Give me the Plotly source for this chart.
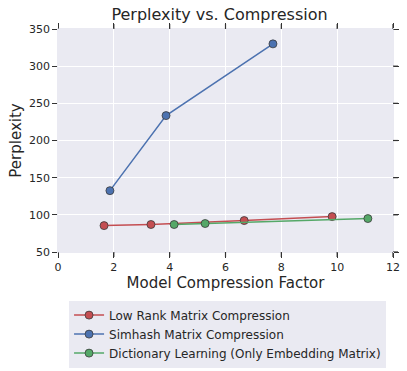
import plotly.graph_objects as go

lowrank_x = [1.65, 3.33, 6.67, 9.82]
lowrank_y = [85.5, 87.0, 92.3, 97.6]
simhash_x = [1.86, 3.87, 7.70]
simhash_y = [132.5, 233.5, 330.0]
dict_x = [4.16, 5.27, 11.10]
dict_y = [87.0, 88.3, 95.0]

x_ticks = [0, 2, 4, 6, 8, 10, 12]
y_ticks = [50, 100, 150, 200, 250, 300, 350]

series = [
    ("Low Rank Matrix Compression", lowrank_x, lowrank_y, "#C44E52"),
    ("Simhash Matrix Compression", simhash_x, simhash_y, "#4C72B0"),
    ("Dictionary Learning (Only Embedding Matrix)", dict_x, dict_y, "#55A868"),
]

X_RANGE = [x_ticks[0], x_ticks[-1]]
Y_RANGE = [y_ticks[0], y_ticks[-1]]
PLOT_W, PLOT_H, TICK = 335, 223, 5
TICK_COLOR = "#333333"

FONT = "DejaVu Sans"
fig = go.Figure()
for name, xs, ys, c in series:
    fig.add_trace(go.Scatter(
        x=xs, y=ys, name=name, mode="lines+markers",
        line=dict(color=c, width=1.5),
        marker=dict(color=c, size=8, line=dict(color="#3a3a3a", width=0.8)),
    ))

axis_style = dict(
    showgrid=True, gridcolor="white", gridwidth=1.2, zeroline=False,
    ticks="outside", ticklen=TICK, tickwidth=1.2, tickcolor=TICK_COLOR,
    mirror="allticks", showline=True, linecolor="#EAEAF2", linewidth=0.5,
    tickfont=dict(family=FONT, size=11, color="#262626"),
)
fig.update_layout(
    xaxis=dict(range=X_RANGE, tickvals=x_ticks, **axis_style,
               title=dict(text="Model Compression Factor",
                          font=dict(family=FONT, size=15, color="#262626"), standoff=4)),
    yaxis=dict(range=Y_RANGE, tickvals=y_ticks, **axis_style,
               title=dict(text="Perplexity",
                          font=dict(family=FONT, size=15, color="#262626"), standoff=3)),
)

# tick marks on all four sides (matplotlib-style frame ticks)
tick_line = dict(color=TICK_COLOR, width=1.2)
for xv in x_ticks:
    fig.add_shape(type="line", xref="x", yref="paper", x0=xv, x1=xv,
                  y0=1, y1=1 + TICK / PLOT_H, line=tick_line)
    fig.add_shape(type="line", xref="x", yref="paper", x0=xv, x1=xv,
                  y0=0, y1=-TICK / PLOT_H, line=tick_line)
for yv in y_ticks:
    fig.add_shape(type="line", xref="paper", yref="y", x0=1, x1=1 + TICK / PLOT_W,
                  y0=yv, y1=yv, line=tick_line)

fig.update_layout(
    width=407, height=371,
    margin=dict(l=58, r=14, t=29, b=119, autoexpand=False),
    paper_bgcolor="white", plot_bgcolor="#EAEAF2",
    title=dict(text="Perplexity vs. Compression", x=219.5 / 407, xanchor="center",
               y=1 - 14 / 371, yanchor="middle",
               font=dict(family=FONT, size=16, color="#262626")),
    legend=dict(x=0.033, xanchor="left", y=-0.218, yanchor="top",
                bgcolor="#EAEAF2", borderwidth=0,
                font=dict(family=FONT, size=12, color="#262626"),
                itemwidth=30, tracegroupgap=0),
    showlegend=True,
)

fig.write_html("out.html", config={"displayModeBar": False},
               post_script="document.body.style.margin='0';document.body.style.overflow='hidden';")
